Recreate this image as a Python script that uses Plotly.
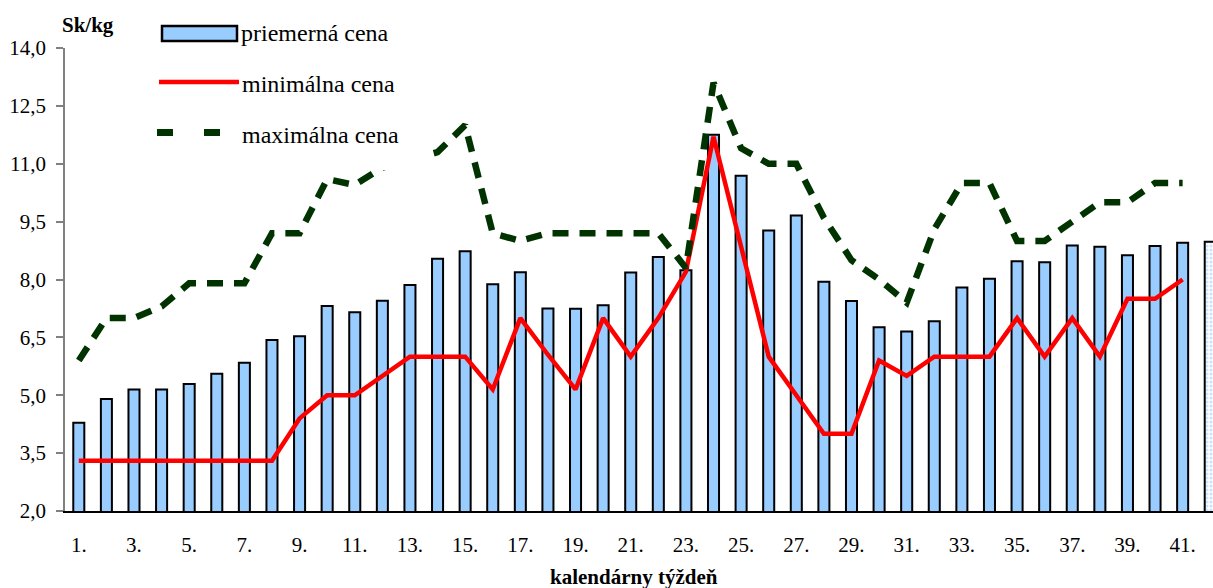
import plotly.graph_objects as go

weeks = list(range(1, 43))
week_labels = [f"{w}." for w in weeks]

avg_price = [4.29, 4.90, 5.15, 5.15, 5.29, 5.56, 5.84, 6.43, 6.53, 7.31,
             7.15, 7.45, 7.86, 8.54, 8.73, 7.88, 8.19, 7.25, 7.24, 7.33,
             8.18, 8.58, 8.24, 11.75, 10.69, 9.27, 9.66, 7.94, 7.44, 6.76,
             6.65, 6.92, 7.79, 8.02, 8.47, 8.45, 8.88, 8.85, 8.63, 8.87,
             8.95, 8.98]

min_price = [3.3, 3.3, 3.3, 3.3, 3.3, 3.3, 3.3, 3.3, 4.4, 5.0,
             5.0, 5.5, 6.0, 6.0, 6.0, 5.15, 7.0, 6.05, 5.15, 7.0,
             6.0, 7.0, 8.2, 11.7, 8.9, 6.0, 5.0, 4.0, 4.0, 5.9,
             5.5, 6.0, 6.0, 6.0, 7.0, 6.0, 7.0, 6.0, 7.5, 7.5,
             8.0]

max_price = [5.9, 7.0, 7.0, 7.3, 7.9, 7.9, 7.9, 9.2, 9.2, 10.6,
             10.45, 10.9, 11.1, 11.3, 12.0, 9.2, 9.0, 9.2, 9.2, 9.2,
             9.2, 9.2, 8.3, 13.1, 11.4, 11.0, 11.0, 9.6, 8.5, 8.0,
             7.4, 9.3, 10.5, 10.5, 9.0, 9.0, 9.5, 10.0, 10.0, 10.5,
             10.5]

y_ticks = [2.0, 3.5, 5.0, 6.5, 8.0, 9.5, 11.0, 12.5, 14.0]
series_names = ["priemerná cena", "minimálna cena", "maximálna cena"]

SERIF = "Liberation Serif"
BAR_FILL = "#99CCFF"
RED = "#FF0000"
GREEN = "#003300"

# plot-area geometry in pixels (for placing legend / titles)
L, R, T, B = 65, 1213, 48, 511


def px(x):
    return (x - L) / (R - L)


def py(y):
    return (B - y) / (B - T)


bar_patterns = [""] * (len(weeks) - 1) + ["."]

fig = go.Figure()
fig.add_trace(go.Bar(
    x=weeks, y=avg_price, name=series_names[0],
    width=0.4,
    marker=dict(color=BAR_FILL, line=dict(color="black", width=2),
                pattern=dict(shape=bar_patterns, size=4, solidity=0.5,
                             fgcolor=BAR_FILL, bgcolor="white")),
))
fig.add_trace(go.Scatter(
    x=weeks[:len(min_price)], y=min_price, name=series_names[1],
    mode="lines", line=dict(color=RED, width=4.5),
))
fig.add_trace(go.Scatter(
    x=weeks[:len(max_price)], y=max_price, name=series_names[2],
    mode="lines", line=dict(color=GREEN, width=6.5, dash="16px,11px"),
))

fig.update_layout(
    width=1213, height=588,
    margin=dict(l=L, r=1213 - R, t=T, b=588 - B, autoexpand=False),
    paper_bgcolor="white", plot_bgcolor="white",
    separators=", ",
    font=dict(family=SERIF, color="black", size=21),
    showlegend=False,
)
fig.update_xaxes(
    range=[0.5, 42.1],
    tickmode="array", tickvals=weeks[::2], ticktext=week_labels[::2],
    showline=True, linecolor="black", linewidth=1.5,
    ticks="", showgrid=False, zeroline=False,
    ticklabelstandoff=14,
    tickfont=dict(size=21, family=SERIF),
)
fig.update_yaxes(
    range=[2.0, 14.0],
    tickmode="array", tickvals=y_ticks, tickformat=".1f",
    showline=True, linecolor="#808080", linewidth=1.5,
    ticks="outside", ticklen=7, tickcolor="#808080", tickwidth=1.5,
    showgrid=False, zeroline=False,
    ticklabelstandoff=6,
    tickfont=dict(size=21, family=SERIF),
)

# --- manual legend (white box above the traces) ---
fig.add_shape(type="rect", xref="paper", yref="paper", layer="above",
              x0=px(150), x1=px(432), y0=py(8), y1=py(170),
              fillcolor="white", line=dict(width=0))
fig.add_shape(type="rect", xref="paper", yref="paper", layer="above",
              x0=px(162), x1=px(237), y0=py(26), y1=py(41),
              fillcolor=BAR_FILL, line=dict(color="black", width=2.5))
fig.add_shape(type="line", xref="paper", yref="paper", layer="above",
              x0=px(159), x1=px(239), y0=py(82), y1=py(82),
              line=dict(color=RED, width=4.5))
for a, b in [(157, 173), (204, 220)]:
    fig.add_shape(type="line", xref="paper", yref="paper", layer="above",
                  x0=px(a), x1=px(b), y0=py(132.5), y1=py(132.5),
                  line=dict(color=GREEN, width=7))
for name, xx, yy in [(series_names[0], 239, 33), (series_names[1], 240, 84),
                     (series_names[2], 240, 135)]:
    fig.add_annotation(text=name, xref="paper", yref="paper",
                       x=px(xx), y=py(yy), xanchor="left", yanchor="middle",
                       showarrow=False, font=dict(size=24, family=SERIF))

fig.add_annotation(
    text="<b>Sk/kg</b>", xref="paper", yref="paper",
    x=px(88), y=py(25), xanchor="center", yanchor="middle",
    showarrow=False, font=dict(size=21, family=SERIF),
)
fig.add_annotation(
    text="<b>kalendárny týždeň</b>", xref="paper", yref="paper",
    x=px(634), y=py(577), xanchor="center", yanchor="middle",
    showarrow=False, font=dict(size=21, family=SERIF),
)

fig.write_html(
    "out.html",
    config={"displayModeBar": False},
    post_script="document.body.style.margin='0px';document.body.style.padding='0px';",
)
